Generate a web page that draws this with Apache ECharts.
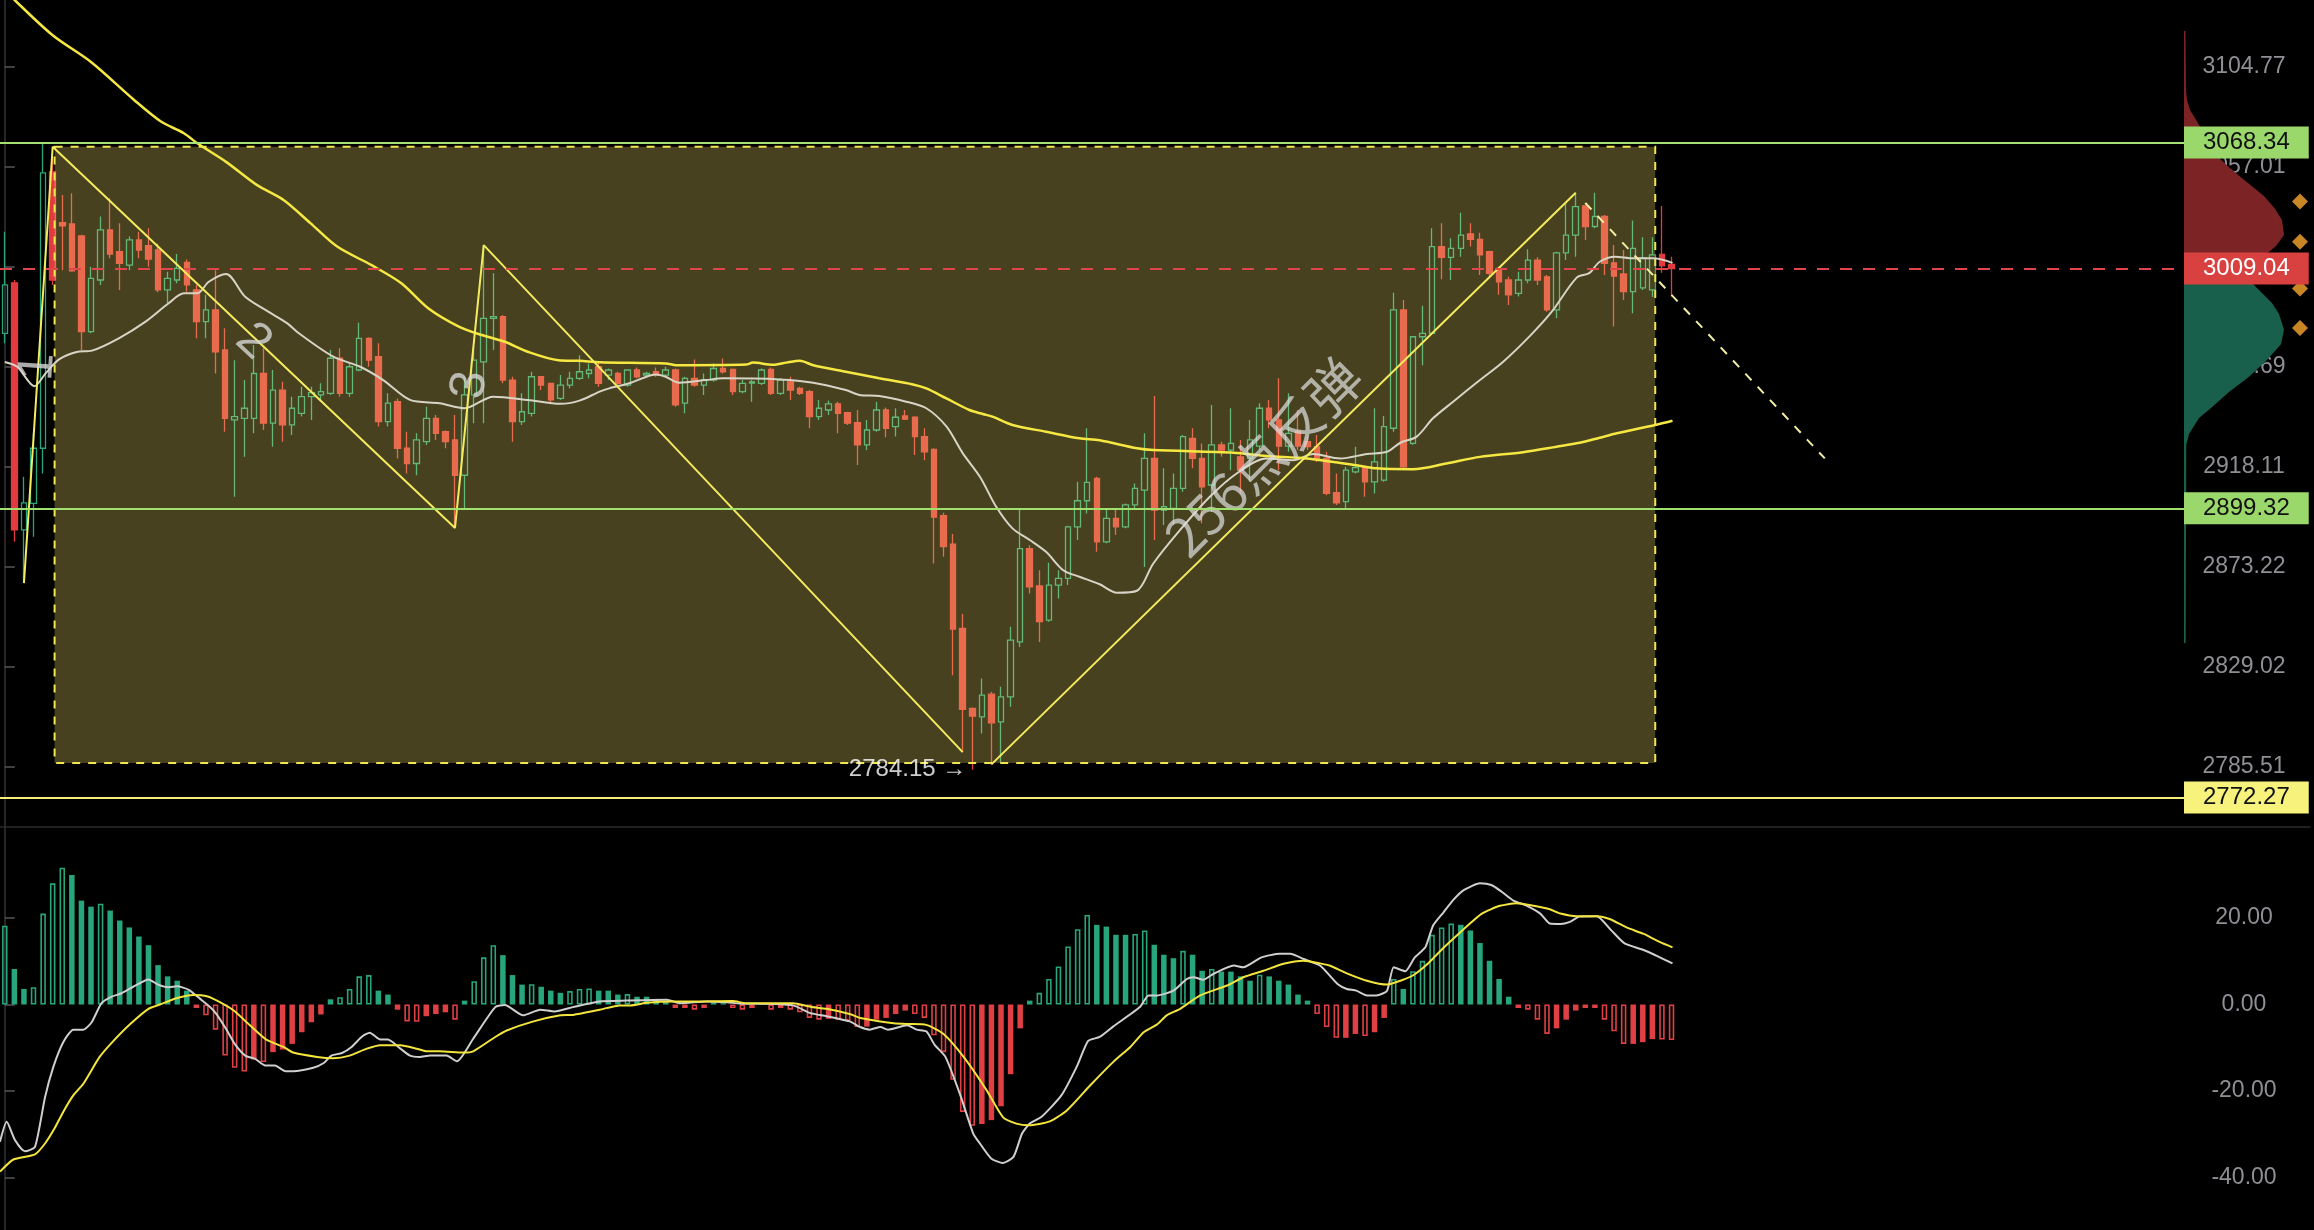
<!DOCTYPE html>
<html><head><meta charset="utf-8">
<script src="https://cdn.jsdelivr.net/npm/echarts@6/dist/echarts.min.js"></script>
<style>html,body{margin:0;padding:0;background:#000;}#c{width:2314px;height:1230px;}</style>
</head><body><div id="c"></div>
<script>
// ---------- DATA ----------
// candles: [open, close, low, high]
const ohlc = [
[2979.0,3001.4,2974.4,3026.3],[3002.4,2889.6,2884.3,3003.7],[2889.6,2901.7,2865.9,2913.5],[2901.5,2926.4,2886.6,2933.3],
[2926.4,3054.0,2915.0,3068.34],[3054.5,3003.7,3001.4,3066.4],[3030.5,3029.0,3008.3,3043.5],[3029.9,3008.0,3007.5,3044.4],
[3024.3,2979.8,2971.3,3024.8],[2979.8,3004.5,2979.0,3009.9],[3003.7,3027.1,3001.4,3033.4],[3027.1,3015.8,3013.8,3042.0],
[3016.9,3011.5,2999.1,3030.2],[3010.6,3022.4,3008.3,3024.0],[3022.4,3017.7,3013.8,3026.3],[3019.7,3013.5,3009.9,3027.9],
[3017.7,2999.1,2998.0,3020.8],[2999.1,3004.5,2992.9,3007.5],[3003.7,3009.1,3002.2,3015.8],[3011.9,3001.4,2998.3,3013.3],
[2999.1,2984.4,2976.7,3001.4],[2984.4,2989.8,2976.7,2996.8],[2989.8,2970.5,2960.5,3008.3],[2971.3,2940.0,2933.9,2981.3],
[2939.3,2940.8,2904.5,2966.6],[2940.0,2944.6,2922.5,2957.5],[2940.0,2960.5,2933.2,2973.6],[2960.5,2937.8,2934.7,2972.1],
[2937.8,2952.9,2927.1,2962.1],[2952.9,2937.0,2929.4,2956.7],[2937.0,2944.6,2932.4,2949.9],[2942.3,2949.9,2940.8,2954.4],
[2949.9,2951.7,2939.3,2954.4],[2950.7,2952.2,2947.6,2956.0],[2951.4,2967.5,2950.7,2971.3],[2967.5,2951.4,2949.9,2972.1],
[2951.4,2963.6,2949.9,2965.1],[2962.1,2976.7,2961.5,2983.9],[2976.7,2966.6,2963.6,2977.2],[2968.2,2938.5,2936.3,2974.4],
[2938.5,2946.9,2936.3,2951.4],[2947.6,2926.4,2921.8,2949.1],[2926.4,2919.5,2915.0,2933.9],[2919.5,2930.2,2914.2,2933.2],
[2929.4,2940.0,2927.9,2945.3],[2940.0,2933.2,2930.2,2941.5],[2933.9,2929.4,2926.4,2934.5],[2930.2,2914.2,2890.5,2941.5],
[2914.2,2950.7,2898.5,2959.0],[2950.7,2966.6,2937.8,2972.8],[2965.8,2985.9,2937.8,3020.0],[2985.9,2986.7,2971.3,3006.8],
[2986.7,2957.5,2956.0,2987.5],[2957.5,2938.5,2929.4,2959.0],[2938.5,2943.0,2937.0,2951.4],[2942.3,2959.0,2940.8,2961.3],
[2959.0,2955.2,2952.9,2959.3],[2956.0,2948.4,2946.9,2956.3],[2949.1,2955.2,2948.4,2959.8],[2955.2,2958.3,2953.7,2961.3],
[2958.3,2961.3,2957.5,2968.9],[2960.5,2962.1,2958.3,2965.1],[2963.6,2956.0,2954.4,2965.8],[2959.8,2962.1,2957.5,2962.8],
[2960.5,2956.0,2955.2,2961.3],[2955.2,2962.1,2954.4,2962.4],[2962.1,2959.0,2958.3,2963.3],[2959.8,2960.5,2959.0,2961.3],
[2961.3,2959.8,2959.0,2963.3],[2959.8,2962.1,2959.0,2963.6],[2962.1,2946.1,2945.3,2962.8],[2946.9,2958.3,2942.3,2959.0],
[2958.3,2955.2,2954.4,2966.9],[2955.2,2957.5,2950.7,2960.5],[2957.5,2962.8,2956.7,2965.1],[2962.8,2961.3,2960.5,2967.4],
[2962.4,2952.2,2950.7,2962.8],[2952.2,2956.0,2951.4,2957.5],[2956.1,2956.6,2947.6,2957.5],[2956.0,2962.1,2955.2,2962.8],
[2962.4,2951.4,2950.7,2963.3],[2951.4,2957.5,2950.7,2958.3],[2956.7,2952.9,2948.4,2959.0],[2953.7,2951.4,2950.7,2954.4],
[2952.2,2940.8,2935.5,2952.9],[2940.8,2944.6,2939.3,2948.4],[2943.8,2946.6,2941.5,2948.1],[2946.6,2942.3,2933.2,2947.6],
[2942.6,2937.8,2937.0,2943.0],[2938.0,2927.9,2918.8,2943.8],[2927.9,2934.7,2925.6,2939.3],[2934.7,2943.8,2933.9,2947.6],
[2943.8,2935.5,2931.4,2945.0],[2936.2,2940.5,2931.7,2944.6],[2941.1,2939.6,2939.3,2943.8],[2940.5,2931.7,2923.4,2940.9],
[2931.7,2924.8,2921.0,2935.5],[2925.9,2895.3,2874.6,2926.4],[2896.0,2882.1,2877.6,2897.3],[2883.2,2845.5,2825.3,2887.8],
[2845.9,2810.4,2791.8,2852.2],[2810.8,2807.4,2784.15,2811.2],[2807.1,2816.6,2799.9,2823.8],[2817.0,2804.5,2786.5,2818.0],
[2804.9,2815.8,2787.5,2820.2],[2815.8,2840.7,2811.5,2846.6],[2839.9,2881.2,2837.7,2898.5],[2881.2,2864.2,2861.3,2882.8],
[2864.6,2848.8,2839.9,2871.6],[2849.5,2865.0,2848.8,2874.9],[2865.0,2868.0,2859.1,2871.6],[2868.0,2891.0,2865.0,2891.5],
[2891.0,2902.7,2885.1,2911.2],[2902.7,2911.0,2897.0,2935.5],[2912.8,2884.3,2879.8,2913.5],[2884.3,2894.8,2883.6,2899.3],
[2894.8,2891.0,2887.3,2898.5],[2891.0,2900.8,2890.3,2901.5],[2900.8,2908.3,2898.5,2910.5],[2907.5,2921.8,2873.1,2933.2],
[2921.8,2898.5,2885.1,2950.2],[2898.5,2900.0,2891.8,2917.3],[2899.3,2908.3,2891.8,2915.0],[2908.3,2931.7,2906.7,2932.4],
[2930.9,2921.8,2917.3,2935.5],[2921.8,2909.0,2892.6,2928.6],[2909.8,2927.9,2897.8,2946.1],[2927.9,2925.6,2922.5,2929.4],
[2925.6,2928.6,2916.5,2944.6],[2922.5,2916.5,2906.0,2930.2],[2921.8,2930.2,2911.2,2939.3],[2927.4,2944.6,2925.6,2946.9],
[2944.6,2939.3,2935.5,2948.4],[2939.3,2927.4,2916.5,2958.3],[2927.4,2933.2,2924.8,2951.4],[2933.9,2927.4,2925.6,2943.8],
[2929.4,2927.1,2925.6,2931.7],[2927.1,2921.8,2920.2,2932.4],[2921.8,2906.0,2905.2,2924.8],[2906.3,2901.8,2900.8,2915.0],
[2902.3,2916.5,2898.5,2918.0],[2915.7,2917.7,2915.0,2927.1],[2917.7,2911.2,2904.5,2918.0],[2911.2,2920.2,2906.0,2944.6],
[2912.0,2936.2,2911.2,2941.1],[2935.5,2989.8,2933.9,2997.8],[2989.8,2918.0,2917.3,2994.4],[2928.6,2977.4,2927.9,2977.7],
[2977.4,2979.0,2964.3,2991.7],[2979.0,3019.3,2978.5,3027.9],[3019.3,3014.3,3004.0,3030.2],[3014.3,3018.5,3003.7,3023.2],
[3018.5,3024.7,3014.6,3035.2],[3025.2,3022.7,3019.3,3030.2],[3022.7,3015.4,3006.0,3025.8],[3016.9,3006.8,3005.2,3017.3],
[3009.1,3002.9,2996.8,3009.5],[3003.7,2996.8,2992.1,3005.2],[2997.5,3003.7,2996.0,3007.5],[3003.7,3013.0,3002.2,3018.0],
[3013.0,3003.7,3001.4,3014.3],[3005.2,2989.8,2989.0,3006.0],[2989.8,3016.4,2986.0,3016.9],[3016.4,3024.7,3013.0,3039.7],
[3024.7,3038.1,3014.6,3044.6],[3038.4,3028.7,3022.4,3039.7],[3028.7,3033.4,3027.9,3044.6],[3033.4,3011.5,3006.0,3034.1],
[3011.7,3005.5,2982.1,3020.0],[3006.5,2998.3,2994.4,3017.7],[2998.3,3018.5,2988.3,3031.5],[3000.0,3013.9,2999.1,3023.7],
[2999.1,3015.4,2995.8,3023.7],[3015.7,3010.3,3007.1,3038.4],[3011.0,3009.04,2996.0,3014.6]
];
const futureSlots = 53;

// moving averages: [bar, price]
const maShort = [[0,2965.8],[1.3,2963.6],[3.1,2954.7],[4.3,2960.8],[5.7,2967.1],[7.5,2970.4],[9.1,2971.0],[11.9,2976.7],[14.7,2984.4],[17.1,2992.9],[18.7,2997.5],[20.1,2997.5],[21.3,3002.9],[23.1,3006.5],[25.1,2995.9],[27.5,2989.0],[29.5,2983.6],[30.7,2979.0],[34.3,2968.2],[37.1,2963.6],[39.5,2957.5],[42.3,2948.4],[45.4,2946.9],[48.0,2944.6],[51.0,2949.9],[54.6,2948.4],[58.0,2946.6],[60,2948.1],[62.1,2952.2],[63.1,2953.7],[65.2,2956.0],[68,2960.1],[69,2959.0],[70.4,2956.3],[73.2,2957.5],[75,2958.3],[80.9,2957.8],[84.4,2956.3],[87.8,2952.9],[89.2,2950.7],[91.3,2950.2],[94.1,2947.6],[96.2,2944.6],[98.3,2936.3],[100,2924.2],[101.8,2913.5],[103.5,2900.0],[105.2,2890.3],[107,2885.1],[108.7,2879.8],[110.5,2871.6],[112.2,2868.7],[114.3,2865.4],[116.1,2861.6],[118.2,2862.5],[119.9,2874.6],[122.7,2889.6],[125.8,2904.5],[128.6,2915.0],[131.7,2921.8],[134.5,2921.0],[136.6,2923.8],[139.4,2921.8],[142.2,2923.8],[144.3,2924.8],[145.7,2928.9],[147.4,2931.7],[149.1,2940.0],[151.2,2947.6],[154,2957.5],[156.4,2965.8],[159.2,2977.7],[161.5,2989.0],[164.1,3004.8],[165.4,3006.9],[166.5,3012.2],[168.1,3014.6],[170,3013.8],[172.1,3013.8],[174.1,3011.7]];
const maLong = [[0,3141.8],[1,3137.0],[5,3119.8],[9,3106.9],[13.5,3088.7],[16.3,3078.4],[18.7,3072.8],[20.1,3068.0],[23.1,3059.2],[26.3,3048.3],[29.1,3041.2],[31.9,3030.3],[34.7,3019.3],[38.3,3010.6],[41.4,3002.2],[44.2,2990.6],[47.4,2982.1],[49.8,2978.2],[52.2,2975.1],[54.6,2970.5],[57.8,2966.6],[60,2966.3],[62.1,2965.7],[69,2965.1],[70.1,2964.3],[77.4,2964.6],[78.1,2965.5],[80.2,2964.5],[81.6,2965.5],[83,2966.3],[84.4,2964.3],[87.8,2961.3],[91.3,2958.3],[94.8,2955.5],[96.2,2953.7],[98.3,2949.1],[100.7,2943.8],[102.1,2942.0],[103.1,2940.8],[105.2,2937.0],[108.7,2933.9],[112.2,2930.9],[114.3,2930.0],[118.2,2926.4],[119.9,2925.6],[128.3,2924.4],[131.7,2922.9],[135.9,2921.8],[141.1,2918.7],[143.2,2917.3],[147.0,2916.9],[150.5,2919.5],[154,2922.5],[158.5,2924.6],[162,2927.1],[164.4,2928.9],[166.5,2931.2],[168.3,2933.2],[172.3,2937.0],[174.1,2938.9]];

// drawings: [bar, price]
const zigzagWaves = [[2,2865.9],[5,3066.4],[47,2890.5],[50,3020.0],[100,2791.8]];
const zigzagRebound = [[103,2786.5],[164,3044.6]];
const projection = [[165,3039.8],[190,2921.8]];
const rangeBox = [[5.2,3066.4],[172.3,2787.1]];
const waveLabels = ['1','2','3'];
const waveLabelAt = [[3.5,2963.6],[25.95,2975.1],[48.6,2955.2]];
const waveLabelAngle = [86,-43,84];
const reboundText = '256点反弹';
const reboundTextAt = [131.4,2922.5];
const lowBar = 101;

// price levels
const resistance = 3068.34, support = 2899.32, floorLevel = 2772.27, lastPrice = 3009.04;
const priceTicks = [3104.77,3057.01,3009.99,2963.69,2918.11,2873.22,2829.02,2785.51];
const priceRange = [2759.6, 3136.9];

// MACD
const macdHist = [18.2,8.2,3.6,4.0,21.0,28.0,31.6,29.9,24.0,22.6,23.3,21.7,19.4,17.8,15.7,13.7,9.1,6.5,5.5,3.2,
-0.8,-2.5,-5.8,-11.8,-14.6,-15.5,-12.7,-13.3,-11.0,-10.4,-9.1,-6.4,-4.1,-2.3,1.2,1.7,3.6,6.5,6.8,3.2,
2.3,-1.2,-3.9,-4.0,-2.7,-2.2,-1.8,-3.5,0.9,5.4,10.9,13.7,11.4,6.8,4.6,4.7,4.1,3.2,2.7,3.1,
3.6,3.7,3.2,3.2,2.3,2.4,1.8,1.8,1.3,0.9,-0.8,-0.8,-1.2,-0.8,0.5,0.3,-0.8,-1.2,-0.8,0.3,
-1.2,-0.8,-1.2,-1.8,-3.1,-3.5,-3.3,-3.5,-3.8,-5.2,-5.1,-3.5,-3.1,-2.2,-1.4,-2.2,-3.1,-7.1,-11.0,-17.4,
-24.8,-28.0,-27.6,-26.7,-23.5,-16.1,-5.5,0.9,2.7,5.9,8.8,13.4,17.4,20.7,18.4,18.0,16.1,16.1,16.3,17.1,
13.8,11.5,10.7,12.4,11.5,7.8,8.2,7.6,7.6,6.5,5.5,6.9,6.5,5.5,4.6,2.3,0.9,-2.2,-5.2,-7.7,
-7.7,-6.8,-7.3,-6.4,-3.1,5.9,3.6,7.7,10.1,16.1,17.8,18.7,18.4,17.1,14.2,10.1,5.9,1.8,-0.8,-1.2,
-3.5,-6.8,-5.5,-3.5,-1.4,-0.8,-0.8,-3.5,-6.2,-9.1,-9.1,-8.7,-8.0,-8.1,-8.2];
const dif = [[-0.5,-31.7],[0.2,-27.1],[1.06,-31.3],[2.1,-33.9],[3.15,-32.9],[4.2,-21.4],[5.07,-14.4],[6.1,-8.7],[7.15,-5.8],[8.2,-5.8],[9.07,-4.1],[10.1,0.3],[11.16,1.8],[12.2,2.6],[13.4,4.1],[15.0,5.8],[16.0,4.6],[17.1,4.0],[18.0,4.2],[19.2,3.4],[20.4,1.3],[21.4,-0.5],[22.1,-2.2],[23.2,-6.0],[24.0,-9.1],[25.1,-11.8],[26.1,-12.5],[27.2,-14.1],[28.2,-14.1],[29.3,-15.4],[30.1,-15.4],[32.2,-14.6],[33.3,-13.5],[34.1,-11.8],[35.2,-11.2],[36.2,-9.8],[37.3,-7.4],[38.1,-6.5],[39.2,-8.1],[40.0,-8.1],[41.3,-10.2],[42.3,-11.8],[43.3,-12.1],[44.4,-11.8],[45.4,-11.8],[46.1,-11.8],[47.2,-13.1],[48.9,-7.9],[51.2,-0.6],[52.2,-0.1],[54.1,-2.5],[55.9,-1.2],[57.4,-1.6],[59.3,-0.6],[62.1,0.7],[64.9,0.9],[69.1,1.1],[70.5,0.3],[73.3,0.7],[75.4,0.5],[76.8,0.2],[78.8,0.2],[82.3,-0.2],[84.1,-2.0],[85.8,-2.7],[88.2,-3.9],[89.3,-5.2],[90.3,-5.8],[91.4,-5.2],[92.2,-5.8],[94.2,-4.8],[95.2,-5.8],[96.2,-6.2],[97.1,-9.4],[98.2,-12.1],[99.7,-20.6],[101.1,-29.8],[101.8,-32.1],[103.0,-35.6],[104.2,-36.6],[105.3,-35.2],[106.2,-29.8],[107.0,-27.5],[108.2,-26.0],[110.3,-21.0],[111.9,-14.4],[113.1,-8.4],[114.3,-7.5],[115.7,-5.1],[118.5,-0.6],[119.4,2.1],[120.3,2.1],[122.0,3.2],[123.4,5.9],[124.1,6.3],[125.1,5.7],[126.2,7.1],[128.3,9.0],[129.3,8.6],[131.2,10.9],[133.1,11.7],[134.2,11.7],[135.6,10.5],[137.3,9.0],[139.2,4.6],[140.1,3.6],[141.1,3.2],[142.2,2.1],[143.2,2.1],[144.3,3.2],[145.0,8.6],[146.2,7.7],[147.2,10.9],[148.3,13.2],[149.1,18.2],[150.2,21.3],[151.2,24.1],[152.3,26.4],[154.0,28.0],[155.2,27.6],[156.3,26.0],[157.5,24.0],[158.9,22.8],[160.3,21.0],[161.3,18.7],[162.4,18.6],[163.4,19.1],[164.4,20.3],[166.2,20.4],[167.6,17.4],[169.1,14.1],[171.1,12.6],[172.4,11.3],[174.1,9.5]];
const dea = [[-0.5,-38.6],[0.9,-35.8],[3.15,-34.6],[4.2,-32.1],[5.2,-28.6],[6.1,-24.8],[7.15,-21.0],[8.2,-18.3],[9.9,-12.1],[11.3,-8.5],[13.1,-4.5],[15.0,-1.0],[16.2,0],[18.0,1.5],[19.7,2.2],[21.1,1.9],[22.5,0.5],[23.9,-1.4],[25.6,-4.8],[27.3,-8.1],[29.1,-9.8],[30.1,-11.1],[32.6,-12.1],[34.3,-12.4],[36.0,-11.8],[37.8,-10.2],[39.2,-9.4],[41.3,-9.4],[43.0,-10.2],[44.0,-10.8],[45.4,-10.8],[47.9,-11.1],[48.9,-10.8],[51.2,-7.5],[52.4,-6.0],[55.2,-3.9],[58.0,-2.5],[59.3,-2.4],[62.1,-1.2],[64.2,-0.2],[65.3,-0.2],[67.0,0.4],[69.8,0.7],[72.6,0.7],[76.0,0.8],[77.4,0.3],[82.3,0.3],[84.1,-0.5],[85.8,-1.0],[88.2,-2.2],[89.3,-3.1],[91.4,-3.9],[92.8,-4.3],[94.3,-4.5],[96.2,-4.7],[98.0,-6.8],[100.1,-12.1],[102.5,-19.8],[104.2,-26.0],[105.6,-27.5],[106.9,-27.9],[109.1,-27.0],[110.9,-24.4],[113.3,-18.7],[115.7,-13.3],[117.5,-9.8],[118.9,-6.4],[120.3,-4.6],[121.3,-2.5],[122.7,-1.0],[124.8,2.1],[127.6,4.4],[129.3,6.3],[131.4,7.8],[133.5,9.4],[135.6,10.1],[137.3,9.5],[138.3,9.0],[140.1,7.2],[142.2,5.5],[144.3,4.6],[145.7,5.5],[147.0,6.7],[148.4,9.1],[150.2,13.1],[152.3,17.4],[154.2,21.0],[156.1,22.8],[157.8,23.4],[159.6,22.8],[161.3,22.0],[162.4,21.0],[164.1,20.4],[166.2,20.4],[167.6,19.7],[169.3,17.8],[171.1,16.3],[172.8,14.4],[174.1,13.2]];
const macdTicks = [20,0,-20,-40];
const macdRange = [-52.08, 41.0];

// volume profile: [price, relative volume]
const profileSell = [[3121.9,1.5],[3093.5,2],[3088.7,3],[3083.9,6],[3079.2,12],[3074.4,18],[3069.6,24],[3061.5,34],[3055.3,48],[3049.2,64],[3043.1,80],[3037.0,91],[3031.8,98],[3024.7,100],[3019.6,92],[3014.9,80],[3009.04,60]];
const profileBuy = [[3009.04,55],[3001.4,70],[2999.1,75],[2993.0,88],[2987.9,95],[2980.8,100],[2973.9,97],[2966.2,82],[2959.0,65],[2952.0,45],[2944.7,27],[2940.2,15],[2932.9,5],[2928.0,2.3],[2839.4,1.7]];
const orderMarks = [3040.5, 3021.6, 2999.7, 2981.5];

// ---------- CHART ----------
// price axis is logarithmic: plot 1000*ln(price) on a linear value axis
const T = p => 1000 * Math.log(p);
const TI = v => Math.exp(v / 1000);
const N = ohlc.length + futureSlots;
const cats = Array.from({length: N}, (_, i) => 'K' + (i + 1));
const GREEN = '#27a57c', RED = '#e13b40';
const FONT = 'Liberation Sans, Arial, sans-serif';
const pts = arr => arr.map(([x, p]) => [x, T(p)]);

const macdBars = macdHist.map((v, i) => {
  const c = v >= 0 ? GREEN : '#e04044';
  const hollow = i === 0 || Math.abs(v) > Math.abs(macdHist[i - 1]);
  return {value: v, itemStyle: hollow ? {color: 'transparent', borderColor: c, borderWidth: 1.6} : {color: c}};
});

function levelLine(price, lineColor, bg, fg, dashed) {
  return {
    yAxis: T(price),
    lineStyle: {color: lineColor, width: 1.8, type: dashed ? [12, 11] : 'solid'},
    label: {show: true, position: 'end', distance: 0, formatter: price.toFixed(2),
      backgroundColor: bg, color: fg, fontSize: 24, fontFamily: FONT, padding: [4, 19, 4, 19]}
  };
}

function profileSeries(points, color) {
  return {
    type: 'custom', xAxisIndex: 4, yAxisIndex: 2, data: [[0]], z: 1, silent: true,
    renderItem: (params, api) => {
      const poly = points.map(([p, w]) => api.coord([w, T(p)]));
      poly.push(api.coord([0, T(points[points.length - 1][0])]), api.coord([0, T(points[0][0])]));
      return {type: 'polygon', shape: {points: poly}, style: {fill: color}};
    }
  };
}

const axisLineStyle = {color: '#333336', width: 1.5};
const option = {
  backgroundColor: '#000',
  animation: false,
  textStyle: {fontFamily: FONT},
  grid: [
    {left: 0, top: 0, width: 2184, height: 827},
    {left: 0, top: 827, width: 2184, height: 403},
    {left: 2184, top: 0, width: 126, height: 827}
  ],
  xAxis: [
    {type: 'category', gridIndex: 0, data: cats, boundaryGap: true,
      axisLine: {show: true, lineStyle: {color: '#2a2a2c', width: 1.5}}, axisTick: {show: false}, axisLabel: {show: false}, splitLine: {show: false}},
    {type: 'value', gridIndex: 0, min: -0.5, max: N - 0.5, show: false},
    {type: 'category', gridIndex: 1, data: cats, boundaryGap: true, show: false},
    {type: 'value', gridIndex: 1, min: -0.5, max: N - 0.5, show: false},
    {type: 'value', gridIndex: 2, min: 0, max: 126,
      axisLine: {show: true, lineStyle: {color: '#2a2a2c', width: 1.5}}, axisTick: {show: false}, axisLabel: {show: false}, splitLine: {show: false}}
  ],
  yAxis: [
    {type: 'value', gridIndex: 0, position: 'right', min: T(priceRange[0]), max: T(priceRange[1]),
      axisLine: {show: true, lineStyle: axisLineStyle},
      axisTick: {show: true, length: 10, customValues: priceTicks.map(T), lineStyle: {color: '#555558', width: 1.5}},
      axisLabel: {show: true, customValues: priceTicks.map(T), formatter: v => TI(v).toFixed(2),
        color: '#8f8f95', fontSize: 23, align: 'center', margin: 60},
      splitLine: {show: false}},
    {type: 'value', gridIndex: 1, position: 'right', min: macdRange[0], max: macdRange[1],
      axisLine: {show: true, lineStyle: axisLineStyle},
      axisTick: {show: true, length: 10, customValues: macdTicks, lineStyle: {color: '#555558', width: 1.5}},
      axisLabel: {show: true, customValues: macdTicks, formatter: v => v.toFixed(2),
        color: '#8f8f95', fontSize: 23, align: 'center', margin: 60},
      splitLine: {show: false}},
    {type: 'value', gridIndex: 2, min: T(priceRange[0]), max: T(priceRange[1]), show: false}
  ],
  series: [
    {type: 'candlestick', xAxisIndex: 0, yAxisIndex: 0, z: 1, silent: true, barWidth: 6,
      data: ohlc.map(r => r.map(T)),
      itemStyle: {color: 'transparent', color0: RED, borderColor: GREEN, borderColor0: RED, borderWidth: 1.3}},
    {type: 'line', xAxisIndex: 1, yAxisIndex: 0, z: 2, silent: true, data: [],
      markArea: {silent: true, z: 2,
        itemStyle: {color: 'rgba(255,235,110,0.28)', borderColor: '#f0e64e', borderWidth: 2, borderType: [8, 8]},
        data: [[{coord: [rangeBox[0][0], T(rangeBox[0][1])]}, {coord: [rangeBox[1][0], T(rangeBox[1][1])]}]]}},
    {type: 'line', xAxisIndex: 1, yAxisIndex: 0, z: 3, silent: true, data: pts(maShort), showSymbol: false, smooth: 0.3,
      lineStyle: {color: '#d7d4c6', width: 2}},
    {type: 'line', xAxisIndex: 1, yAxisIndex: 0, z: 3, silent: true, data: pts(maLong), showSymbol: false, smooth: 0.3,
      lineStyle: {color: '#f6e842', width: 2.5}},
    {type: 'line', xAxisIndex: 1, yAxisIndex: 0, z: 4, silent: true, data: pts(zigzagWaves), showSymbol: false,
      lineStyle: {color: '#f4ec5e', width: 2}},
    {type: 'line', xAxisIndex: 1, yAxisIndex: 0, z: 4, silent: true, data: pts(zigzagRebound), showSymbol: false,
      lineStyle: {color: '#f4ec5e', width: 2}},
    {type: 'line', xAxisIndex: 1, yAxisIndex: 0, z: 4, silent: true, data: pts(projection), showSymbol: false,
      lineStyle: {color: '#f1eda2', width: 2, type: [9, 9]}},
    {type: 'line', xAxisIndex: 1, yAxisIndex: 0, z: 10, silent: true, data: [],
      markLine: {symbol: 'none', silent: true, animation: false, precision: 6, z: 10,
        data: [
          levelLine(resistance, '#a6e273', '#9bd86b', '#111', false),
          levelLine(support, '#a0e06c', '#9bd86b', '#111', false),
          levelLine(floorLevel, '#f6f07a', '#f6f27c', '#111', false),
          levelLine(lastPrice, '#e0454b', '#d8413f', '#fff', true)
        ]}},
    {type: 'scatter', xAxisIndex: 1, yAxisIndex: 0, z: 7, silent: true, symbolSize: 0,
      data: [
        ...waveLabels.map((t, k) => ({value: [waveLabelAt[k][0], T(waveLabelAt[k][1])],
          label: {show: true, position: 'inside', formatter: t, rotate: waveLabelAngle[k], fontSize: 50,
            fontFamily: 'Liberation Sans, Arial, sans-serif', color: '#d6d6d6'}})),
        {value: [reboundTextAt[0], T(reboundTextAt[1])],
          label: {show: true, position: 'inside', formatter: reboundText, rotate: 45, fontSize: 54,
            fontFamily: 'Noto Sans CJK SC', color: 'rgba(222,222,222,0.9)'}},
        {value: [lowBar, T(ohlc[lowBar][2])],
          label: {show: true, position: 'left', distance: 6, formatter: ohlc[lowBar][2].toFixed(2) + ' →',
            fontSize: 24, fontFamily: 'Liberation Sans, DejaVu Sans, sans-serif', color: '#ffffff'}}
      ]},
    profileSeries(profileSell, '#7b2325'),
    profileSeries(profileBuy, '#18604b'),
    {type: 'scatter', xAxisIndex: 4, yAxisIndex: 2, z: 2, silent: true, symbol: 'diamond', symbolSize: 16,
      itemStyle: {color: '#fba82e'}, data: orderMarks.map(p => [116, T(p)])},
    {type: 'bar', xAxisIndex: 2, yAxisIndex: 1, z: 2, silent: true, barWidth: 5.5, data: macdBars},
    {type: 'line', xAxisIndex: 3, yAxisIndex: 1, z: 3, silent: true, data: dif, showSymbol: false, smooth: 0.2,
      lineStyle: {color: '#cfcfcf', width: 2}},
    {type: 'line', xAxisIndex: 3, yAxisIndex: 1, z: 3, silent: true, data: dea, showSymbol: false, smooth: 0.2,
      lineStyle: {color: '#f3e53c', width: 2}}
  ]
};
const chart = echarts.init(document.getElementById('c'));
chart.setOption(option);
</script></body></html>
